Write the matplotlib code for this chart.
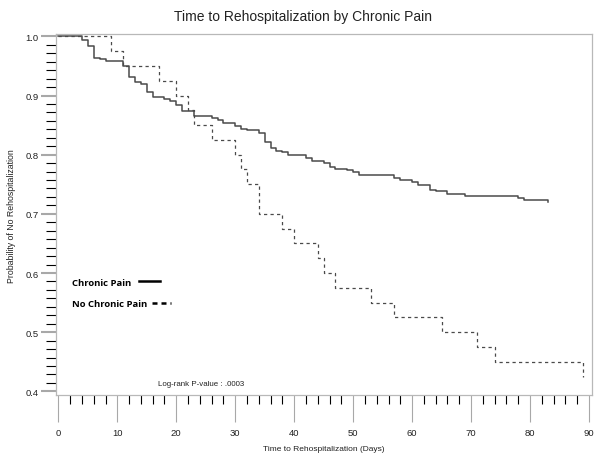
import matplotlib
matplotlib.use("Agg")
import matplotlib.pyplot as plt
from matplotlib.ticker import MultipleLocator, AutoMinorLocator
from matplotlib.lines import Line2D

# Kaplan-Meier steps
pain_days = [0, 4, 5, 6, 7, 8, 11, 12, 13, 14, 15, 16, 18, 19, 20, 21, 23, 26, 27,
             28, 30, 31, 32, 34, 35, 36, 37, 38, 39, 42, 43, 45, 46, 47, 49, 50, 51,
             57, 58, 60, 61, 63, 64, 66, 69, 78, 79, 83]
pain_surv = [1.0, 0.993, 0.984, 0.964, 0.961, 0.958, 0.950, 0.931, 0.923, 0.919,
             0.906, 0.898, 0.894, 0.890, 0.884, 0.873, 0.866, 0.862, 0.858, 0.854,
             0.848, 0.843, 0.841, 0.836, 0.822, 0.811, 0.807, 0.804, 0.800, 0.794,
             0.790, 0.786, 0.780, 0.776, 0.774, 0.770, 0.765, 0.761, 0.758, 0.754,
             0.748, 0.741, 0.738, 0.734, 0.730, 0.727, 0.723, 0.720]

nopain_days = [0, 9, 11, 17, 20, 22, 23, 26, 30, 31, 32, 34, 38, 40, 44, 45, 47,
               53, 57, 65, 71, 74, 89]
nopain_surv = [1.0, 0.975, 0.95, 0.925, 0.900, 0.875, 0.85, 0.825, 0.80, 0.775,
               0.75, 0.70, 0.675, 0.65, 0.625, 0.60, 0.575, 0.55, 0.525, 0.50,
               0.475, 0.45, 0.425]

text_font = ["Liberation Sans", "DejaVu Sans"]
legend_font = ["Open Sans", "DejaVu Sans"]
line_col = "#4a4a4a"
frame_col = "#b8b8b8"

fig = plt.figure(figsize=(6.04, 4.64), dpi=100)
fig.patch.set_facecolor("white")
ax = fig.add_axes([0.0927, 0.1455, 0.8873, 0.7791])

ax.step(pain_days, pain_surv, where="post", color=line_col, linewidth=1.1)
ax.step(nopain_days, nopain_surv, where="post", color=line_col, linewidth=0.9,
        linestyle=(0, (2.6, 2.6)))

ax.set_xlim(-0.4, 90.5)
ax.set_ylim(0.393, 1.004)

ax.xaxis.set_major_locator(MultipleLocator(10))
ax.xaxis.set_minor_locator(MultipleLocator(2))
ax.yaxis.set_major_locator(MultipleLocator(0.1))
ax.yaxis.set_minor_locator(AutoMinorLocator(7))
ax.yaxis.set_major_formatter(lambda v, p: f"{v:.1f}")

ax.tick_params(axis="x", which="major", length=19.5, width=0.8, color="#a8a8a8",
               labelsize=6.8, pad=4)
ax.tick_params(axis="x", which="minor", length=6.5, width=0.8, color="black")
ax.tick_params(axis="y", which="major", length=11, width=1.5, color="#a8a8a8",
               labelsize=6.8, pad=1.5)
ax.tick_params(axis="y", which="minor", length=7, width=0.8, color="black")
for lab in ax.get_xticklabels() + ax.get_yticklabels():
    lab.set_family(text_font)
    lab.set_color("#222222")

for side in ["top", "right", "left", "bottom"]:
    ax.spines[side].set_color(frame_col)
    ax.spines[side].set_linewidth(0.9)

fig.suptitle("Time to Rehospitalization by Chronic Pain", x=0.502, y=0.978,
             fontsize=10, family=text_font, color="#222222")
ax.set_xlabel("Time to Rehospitalization (Days)", fontsize=6, family=text_font,
              labelpad=6, color="#222222")
ax.set_ylabel("Probability of No Rehospitalization", fontsize=6.3, family=text_font,
              labelpad=7, color="#222222")

# legend: label first, then the line sample
leg1 = ax.legend(handles=[Line2D([], [], color="black", linewidth=1.8)],
                 labels=["Chronic Pain"], markerfirst=False, frameon=False,
                 loc="upper left", bbox_to_anchor=(0.022, 0.336), handlelength=2.2,
                 handletextpad=0.9, borderaxespad=0,
                 prop={"family": legend_font, "size": 6.8, "weight": "bold"})
ax.add_artist(leg1)
ax.legend(handles=[Line2D([], [], color="black", linewidth=1.8,
                          linestyle=(0, (2.0, 1.6)))],
          labels=["No Chronic Pain"], markerfirst=False, frameon=False,
          loc="upper left", bbox_to_anchor=(0.022, 0.276), handlelength=2.0,
          handletextpad=0.6, borderaxespad=0,
          prop={"family": legend_font, "size": 6.8, "weight": "bold"})

ax.text(0.19, 0.03, "Log-rank P-value : .0003", transform=ax.transAxes,
        fontsize=5.7, family=text_font, color="#222222")

fig.savefig("out.png", dpi=100, facecolor="white")
